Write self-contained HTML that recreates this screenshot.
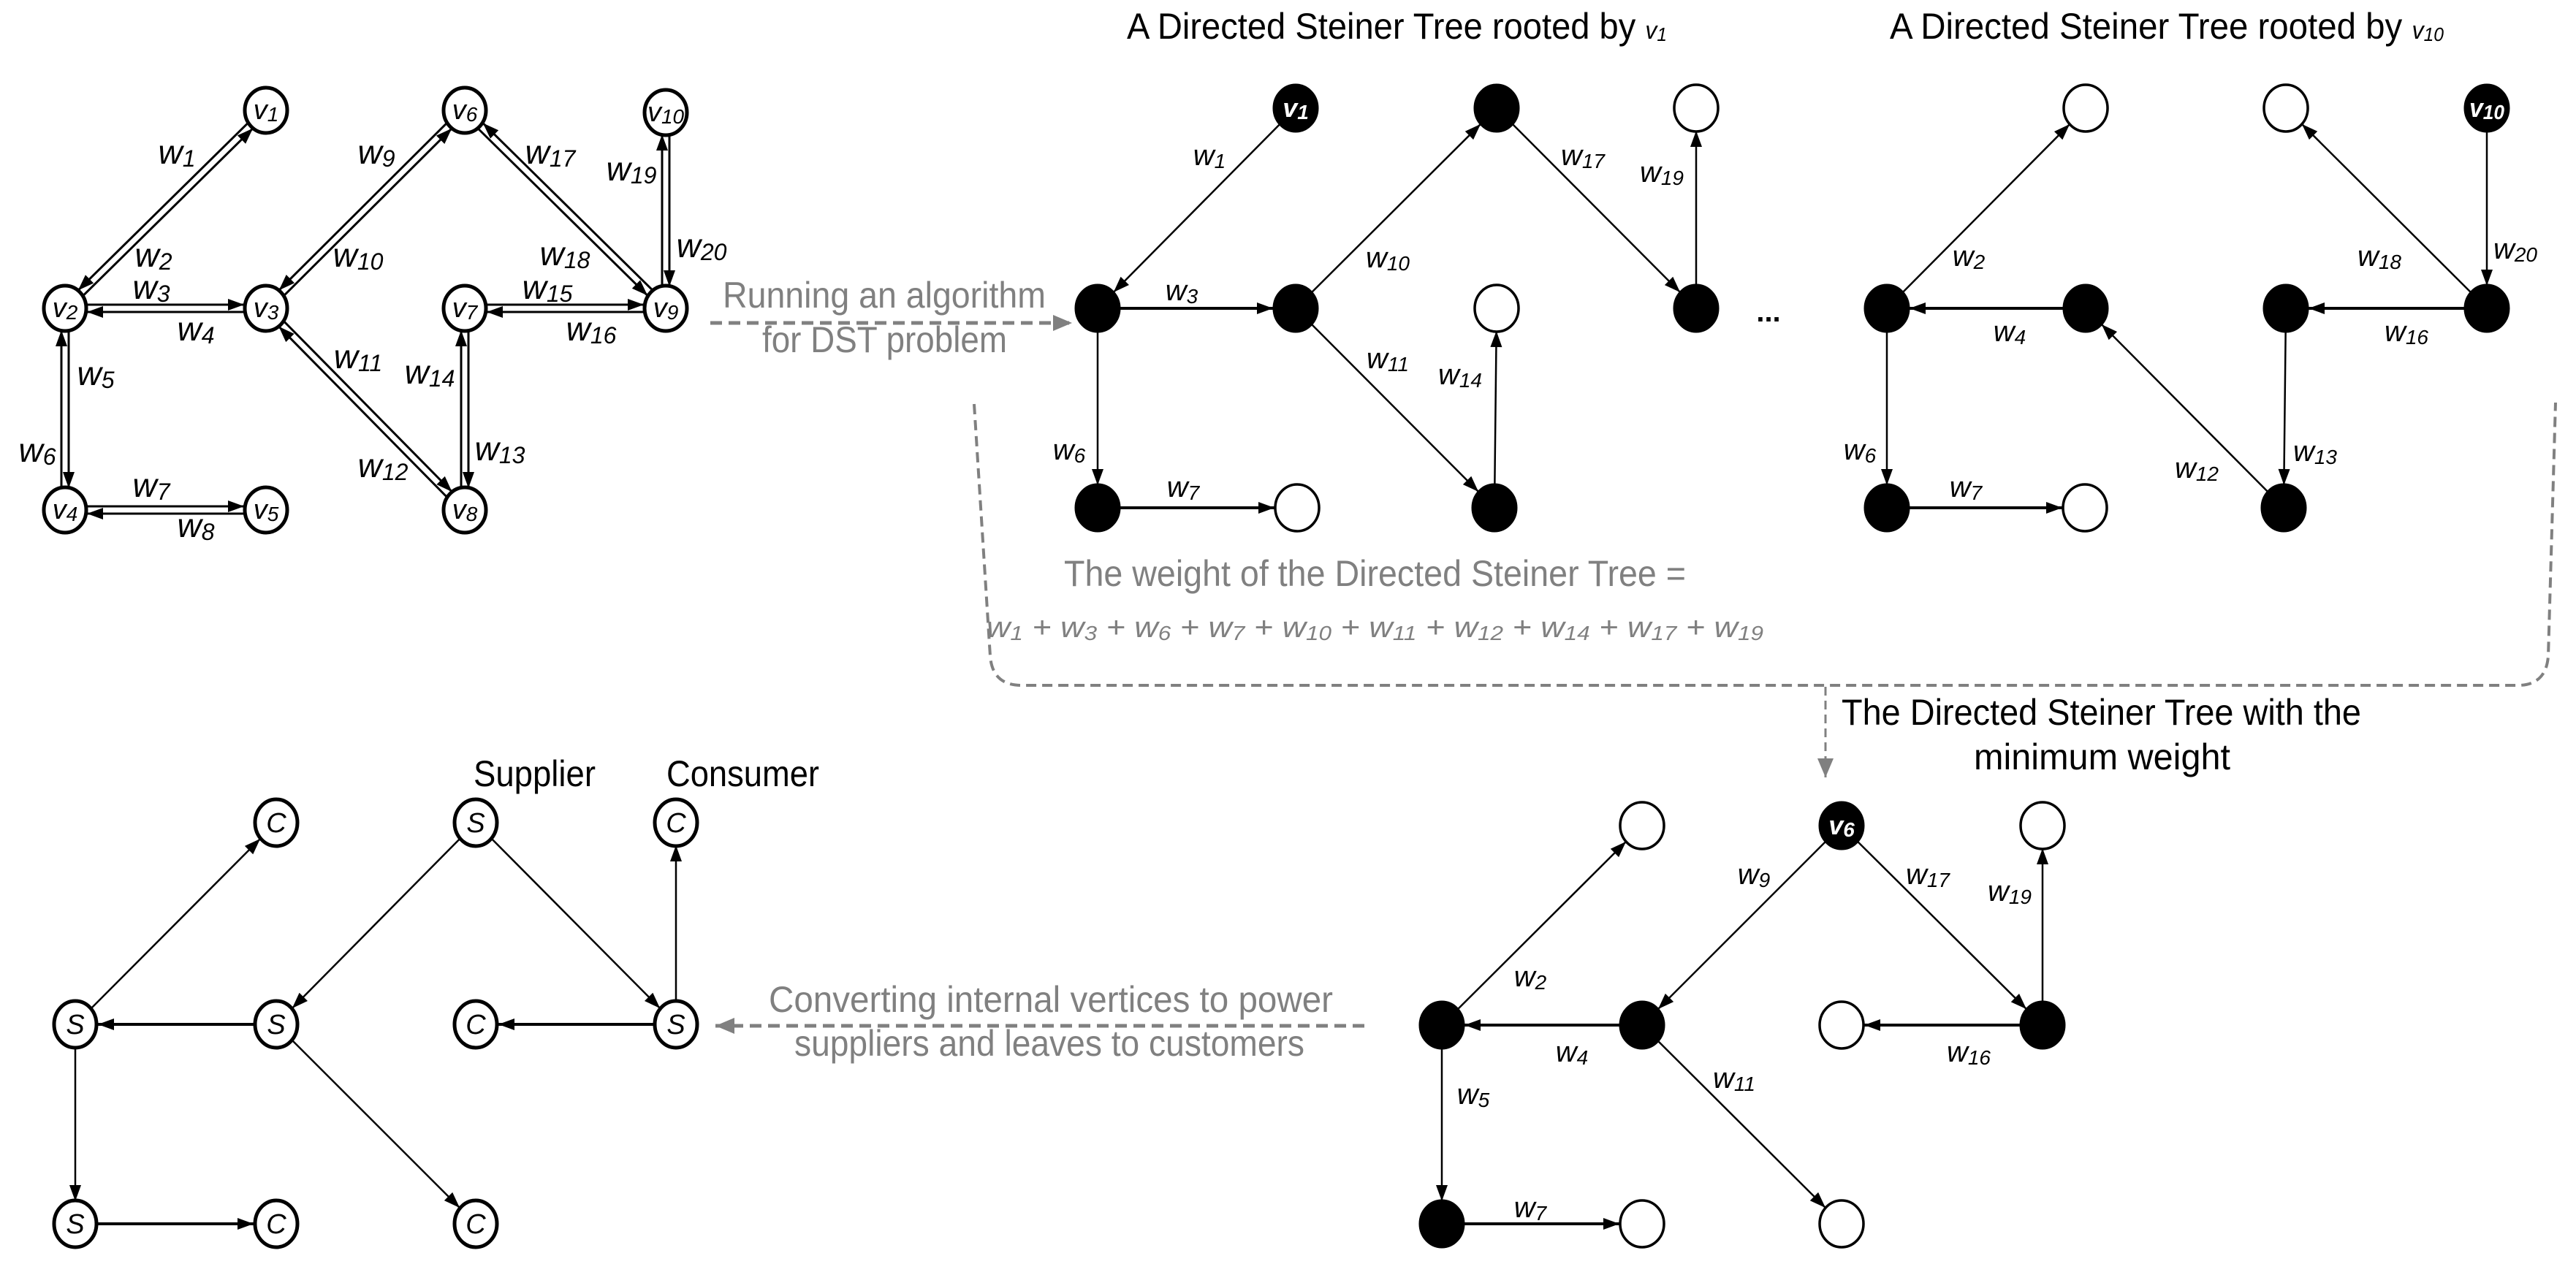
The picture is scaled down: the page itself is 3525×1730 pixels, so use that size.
<!DOCTYPE html>
<html><head><meta charset="utf-8"><style>
html,body{margin:0;padding:0;background:#fff;}
svg{display:block;}
text{font-family:"Liberation Sans",sans-serif;}
.L{font-size:46px;font-style:italic;text-anchor:middle;fill:#000;}
.T{font-size:40px;font-style:italic;text-anchor:middle;fill:#000;}
.N{font-size:38px;font-style:italic;text-anchor:middle;fill:#000;}
.NW{font-size:36px;font-style:italic;font-weight:bold;text-anchor:middle;fill:#fff;}
.s{font-size:32px;}
.st{font-size:28px;}
.sn{font-size:28px;}
.g{fill:#808080;font-size:50px;}
.k{fill:#000;font-size:50px;}
.e{stroke:#000;stroke-width:2.5;fill:none;marker-end:url(#b);}
.eh{stroke:#000;stroke-width:4;fill:none;marker-end:url(#b);}
.d{stroke:#000;stroke-width:3;fill:none;marker-end:url(#a);}
.n{fill:#fff;stroke:#000;stroke-width:5;}
.tw{fill:#fff;stroke:#000;stroke-width:3.5;}
.tb{fill:#000;stroke:#000;stroke-width:3;}
</style></head><body>
<svg width="3525" height="1730" viewBox="0 0 3525 1730" xmlns="http://www.w3.org/2000/svg">
<defs>
<marker id="a" markerUnits="userSpaceOnUse" markerWidth="22" markerHeight="16" viewBox="0 0 22 16" refX="52" refY="8" orient="auto" overflow="visible"><path d="M0,0 L22,8 L0,16 z" fill="#000"/></marker>
<marker id="b" markerUnits="userSpaceOnUse" markerWidth="22" markerHeight="16" viewBox="0 0 22 16" refX="53" refY="8" orient="auto" overflow="visible"><path d="M0,0 L22,8 L0,16 z" fill="#000"/></marker>
<marker id="g" markerUnits="userSpaceOnUse" markerWidth="26" markerHeight="22" viewBox="0 0 26 22" refX="26" refY="11" orient="auto" overflow="visible"><path d="M0,0 L26,11 L0,22 z" fill="#808080"/></marker>
</defs>
<rect width="3525" height="1730" fill="#fff"/>

<line class="d" x1="92.5" y1="425.6" x2="367.5" y2="154.6"/>
<line class="d" x1="360.5" y1="147.4" x2="85.5" y2="418.4"/>
<line class="d" x1="89" y1="417" x2="364" y2="417"/>
<line class="d" x1="364" y1="427" x2="89" y2="427"/>
<line class="d" x1="84" y1="698" x2="84" y2="422"/>
<line class="d" x1="94" y1="422" x2="94" y2="698"/>
<line class="d" x1="89" y1="693" x2="364" y2="693"/>
<line class="d" x1="364" y1="703" x2="89" y2="703"/>
<line class="d" x1="367.5" y1="425.6" x2="639.5" y2="154.6"/>
<line class="d" x1="632.5" y1="147.4" x2="360.5" y2="418.4"/>
<line class="d" x1="367.6" y1="418.5" x2="639.6" y2="694.5"/>
<line class="d" x1="632.4" y1="701.5" x2="360.4" y2="425.5"/>
<line class="d" x1="631" y1="698" x2="631" y2="422"/>
<line class="d" x1="641" y1="422" x2="641" y2="698"/>
<line class="d" x1="636" y1="417" x2="911" y2="417"/>
<line class="d" x1="911" y1="427" x2="636" y2="427"/>
<line class="d" x1="914.5" y1="418.4" x2="639.5" y2="147.4"/>
<line class="d" x1="632.5" y1="154.6" x2="907.5" y2="425.6"/>
<line class="d" x1="906" y1="422" x2="906" y2="154"/>
<line class="d" x1="916" y1="154" x2="916" y2="422"/>

<ellipse class="n" cx="364" cy="151" rx="29" ry="31"/>
<ellipse class="n" cx="636" cy="151" rx="29" ry="31"/>
<ellipse class="n" cx="911" cy="154" rx="29" ry="31"/>
<ellipse class="n" cx="89" cy="422" rx="29" ry="31"/>
<ellipse class="n" cx="364" cy="422" rx="29" ry="31"/>
<ellipse class="n" cx="636" cy="422" rx="29" ry="31"/>
<ellipse class="n" cx="911" cy="422" rx="29" ry="31"/>
<ellipse class="n" cx="89" cy="698" rx="29" ry="31"/>
<ellipse class="n" cx="364" cy="698" rx="29" ry="31"/>
<ellipse class="n" cx="636" cy="698" rx="29" ry="31"/>
<text class="N" x="364" y="163">v<tspan class="sn" dy="3">1</tspan></text>
<text class="N" x="636" y="163">v<tspan class="sn" dy="3">6</tspan></text>
<text class="N" x="911" y="166" textLength="50" lengthAdjust="spacingAndGlyphs">v<tspan class="sn" dy="3">10</tspan></text>
<text class="N" x="89" y="434">v<tspan class="sn" dy="3">2</tspan></text>
<text class="N" x="364" y="434">v<tspan class="sn" dy="3">3</tspan></text>
<text class="N" x="636" y="434">v<tspan class="sn" dy="3">7</tspan></text>
<text class="N" x="911" y="434">v<tspan class="sn" dy="3">9</tspan></text>
<text class="N" x="89" y="710">v<tspan class="sn" dy="3">4</tspan></text>
<text class="N" x="364" y="710">v<tspan class="sn" dy="3">5</tspan></text>
<text class="N" x="636" y="710">v<tspan class="sn" dy="3">8</tspan></text>

<text class="L" x="242" y="224">w<tspan class="s" dy="4">1</tspan></text>
<text class="L" x="210" y="365">w<tspan class="s" dy="4">2</tspan></text>
<text class="L" x="207" y="409">w<tspan class="s" dy="4">3</tspan></text>
<text class="L" x="268" y="466">w<tspan class="s" dy="4">4</tspan></text>
<text class="L" x="131" y="527">w<tspan class="s" dy="4">5</tspan></text>
<text class="L" x="51" y="632">w<tspan class="s" dy="4">6</tspan></text>
<text class="L" x="207" y="680">w<tspan class="s" dy="4">7</tspan></text>
<text class="L" x="268" y="735">w<tspan class="s" dy="4">8</tspan></text>
<text class="L" x="515" y="224">w<tspan class="s" dy="4">9</tspan></text>
<text class="L" x="490" y="365">w<tspan class="s" dy="4">10</tspan></text>
<text class="L" x="490" y="504">w<tspan class="s" dy="4">11</tspan></text>
<text class="L" x="524" y="653">w<tspan class="s" dy="4">12</tspan></text>
<text class="L" x="684" y="630">w<tspan class="s" dy="4">13</tspan></text>
<text class="L" x="588" y="525">w<tspan class="s" dy="4">14</tspan></text>
<text class="L" x="749" y="409">w<tspan class="s" dy="4">15</tspan></text>
<text class="L" x="809" y="466">w<tspan class="s" dy="4">16</tspan></text>
<text class="L" x="753" y="224">w<tspan class="s" dy="4">17</tspan></text>
<text class="L" x="773" y="363">w<tspan class="s" dy="4">18</tspan></text>
<text class="L" x="864" y="247">w<tspan class="s" dy="4">19</tspan></text>
<text class="L" x="960" y="352">w<tspan class="s" dy="4">20</tspan></text>

<text class="g" x="989" y="421" textLength="442" lengthAdjust="spacingAndGlyphs">Running an algorithm</text>
<text class="g" x="1043" y="482" textLength="335" lengthAdjust="spacingAndGlyphs">for DST problem</text>
<line x1="972" y1="442" x2="1467" y2="442" stroke="#808080" stroke-width="5" stroke-dasharray="16 9" marker-end="url(#g)"/>

<text class="k" x="1542" y="53" textLength="739" lengthAdjust="spacingAndGlyphs">A Directed Steiner Tree rooted by <tspan font-style="italic" font-size="34">v<tspan font-size="26" dy="3">1</tspan></tspan></text>
<text class="k" x="2586" y="53" textLength="758" lengthAdjust="spacingAndGlyphs">A Directed Steiner Tree rooted by <tspan font-style="italic" font-size="34">v<tspan font-size="26" dy="3">10</tspan></tspan></text>

<line class="e" x1="1773" y1="148" x2="1502" y2="422"/>
<line class="eh" x1="1502" y1="422" x2="1773" y2="422"/>
<line class="e" x1="1773" y1="422" x2="2048" y2="148"/>
<line class="e" x1="2048" y1="148" x2="2321" y2="422"/>
<line class="e" x1="2321" y1="422" x2="2321" y2="148"/>
<line class="e" x1="1773" y1="422" x2="2045" y2="695"/>
<line class="e" x1="2045" y1="695" x2="2048" y2="422"/>
<line class="e" x1="1502" y1="422" x2="1502" y2="695"/>
<line class="eh" x1="1502" y1="695" x2="1775" y2="695"/>
<ellipse class="tb" cx="1773" cy="148" rx="30" ry="32"/>
<ellipse class="tb" cx="2048" cy="148" rx="30" ry="32"/>
<ellipse class="tw" cx="2321" cy="148" rx="30" ry="32"/>
<ellipse class="tb" cx="1502" cy="422" rx="30" ry="32"/>
<ellipse class="tb" cx="1773" cy="422" rx="30" ry="32"/>
<ellipse class="tw" cx="2048" cy="422" rx="30" ry="32"/>
<ellipse class="tb" cx="2321" cy="422" rx="30" ry="32"/>
<ellipse class="tb" cx="1502" cy="695" rx="30" ry="32"/>
<ellipse class="tw" cx="1775" cy="695" rx="30" ry="32"/>
<ellipse class="tb" cx="2045" cy="695" rx="30" ry="32"/>
<text class="NW" x="1773" y="160">v<tspan class="sn" dy="3">1</tspan></text>
<text class="T" x="1655" y="226">w<tspan class="st" dy="4">1</tspan></text>
<text class="T" x="1617" y="411">w<tspan class="st" dy="4">3</tspan></text>
<text class="T" x="1899" y="366">w<tspan class="st" dy="4">10</tspan></text>
<text class="T" x="2166" y="226">w<tspan class="st" dy="4">17</tspan></text>
<text class="T" x="2274" y="249">w<tspan class="st" dy="4">19</tspan></text>
<text class="T" x="1899" y="504">w<tspan class="st" dy="4">11</tspan></text>
<text class="T" x="1998" y="526">w<tspan class="st" dy="4">14</tspan></text>
<text class="T" x="1463" y="629">w<tspan class="st" dy="4">6</tspan></text>
<text class="T" x="1619" y="680">w<tspan class="st" dy="4">7</tspan></text>
<text x="2420" y="440" font-size="40" font-weight="bold" text-anchor="middle">...</text>

<line class="e" x1="2582" y1="422" x2="2854" y2="148"/>
<line class="eh" x1="2854" y1="422" x2="2582" y2="422"/>
<line class="e" x1="2582" y1="422" x2="2582" y2="695"/>
<line class="eh" x1="2582" y1="695" x2="2853" y2="695"/>
<line class="e" x1="3125" y1="695" x2="2854" y2="422"/>
<line class="e" x1="3128" y1="422" x2="3125" y2="695"/>
<line class="e" x1="3403" y1="422" x2="3128" y2="148"/>
<line class="e" x1="3403" y1="148" x2="3403" y2="422"/>
<line class="eh" x1="3403" y1="422" x2="3128" y2="422"/>
<ellipse class="tw" cx="2854" cy="148" rx="30" ry="32"/>
<ellipse class="tw" cx="3128" cy="148" rx="30" ry="32"/>
<ellipse class="tb" cx="3403" cy="148" rx="30" ry="32"/>
<ellipse class="tb" cx="2582" cy="422" rx="30" ry="32"/>
<ellipse class="tb" cx="2854" cy="422" rx="30" ry="32"/>
<ellipse class="tb" cx="3128" cy="422" rx="30" ry="32"/>
<ellipse class="tb" cx="3403" cy="422" rx="30" ry="32"/>
<ellipse class="tb" cx="2582" cy="695" rx="30" ry="32"/>
<ellipse class="tw" cx="2853" cy="695" rx="30" ry="32"/>
<ellipse class="tb" cx="3125" cy="695" rx="30" ry="32"/>
<text class="NW" x="3403" y="160" textLength="48" lengthAdjust="spacingAndGlyphs">v<tspan class="sn" dy="3">10</tspan></text>
<text class="T" x="2694" y="364">w<tspan class="st" dy="4">2</tspan></text>
<text class="T" x="2750" y="467">w<tspan class="st" dy="4">4</tspan></text>
<text class="T" x="2545" y="629">w<tspan class="st" dy="4">6</tspan></text>
<text class="T" x="2690" y="680">w<tspan class="st" dy="4">7</tspan></text>
<text class="T" x="3006" y="654">w<tspan class="st" dy="4">12</tspan></text>
<text class="T" x="3168" y="631">w<tspan class="st" dy="4">13</tspan></text>
<text class="T" x="3293" y="467">w<tspan class="st" dy="4">16</tspan></text>
<text class="T" x="3256" y="364">w<tspan class="st" dy="4">18</tspan></text>
<text class="T" x="3442" y="354">w<tspan class="st" dy="4">20</tspan></text>

<text class="g" x="1456" y="802" textLength="851" lengthAdjust="spacingAndGlyphs">The weight of the Directed Steiner Tree =</text>
<text x="1350" y="872" fill="#808080" font-size="40" font-style="italic" textLength="1063" lengthAdjust="spacingAndGlyphs">w<tspan font-size="28" dy="4">1</tspan><tspan dy="-4"> + w</tspan><tspan font-size="28" dy="4">3</tspan><tspan dy="-4"> + w</tspan><tspan font-size="28" dy="4">6</tspan><tspan dy="-4"> + w</tspan><tspan font-size="28" dy="4">7</tspan><tspan dy="-4"> + w</tspan><tspan font-size="28" dy="4">10</tspan><tspan dy="-4"> + w</tspan><tspan font-size="28" dy="4">11</tspan><tspan dy="-4"> + w</tspan><tspan font-size="28" dy="4">12</tspan><tspan dy="-4"> + w</tspan><tspan font-size="28" dy="4">14</tspan><tspan dy="-4"> + w</tspan><tspan font-size="28" dy="4">17</tspan><tspan dy="-4"> + w</tspan><tspan font-size="28" dy="4">19</tspan></text>

<path d="M1333,553 L1355,898 Q1358,938 1398,938 L3445,938 Q3484,938 3487,898 L3497,551" fill="none" stroke="#808080" stroke-width="4" stroke-dasharray="14 8"/>
<line x1="2498" y1="940" x2="2498" y2="1064" stroke="#808080" stroke-width="3" stroke-dasharray="12 7" marker-end="url(#g)"/>
<text class="k" x="2520" y="992" textLength="711" lengthAdjust="spacingAndGlyphs">The Directed Steiner Tree with the</text>
<text class="k" x="2701" y="1053" textLength="351" lengthAdjust="spacingAndGlyphs">minimum weight</text>

<line class="e" x1="1973" y1="1403" x2="2247" y2="1130"/>
<line class="eh" x1="2247" y1="1403" x2="1973" y2="1403"/>
<line class="e" x1="1973" y1="1403" x2="1973" y2="1675"/>
<line class="eh" x1="1973" y1="1675" x2="2247" y2="1675"/>
<line class="e" x1="2520" y1="1130" x2="2247" y2="1403"/>
<line class="e" x1="2520" y1="1130" x2="2795" y2="1403"/>
<line class="e" x1="2795" y1="1403" x2="2795" y2="1130"/>
<line class="eh" x1="2795" y1="1403" x2="2520" y2="1403"/>
<line class="e" x1="2247" y1="1403" x2="2520" y2="1675"/>
<ellipse class="tb" cx="1973" cy="1403" rx="30" ry="32"/>
<ellipse class="tw" cx="2247" cy="1130" rx="30" ry="32"/>
<ellipse class="tb" cx="2247" cy="1403" rx="30" ry="32"/>
<ellipse class="tb" cx="1973" cy="1675" rx="30" ry="32"/>
<ellipse class="tw" cx="2247" cy="1675" rx="30" ry="32"/>
<ellipse class="tb" cx="2520" cy="1130" rx="30" ry="32"/>
<ellipse class="tw" cx="2520" cy="1403" rx="30" ry="32"/>
<ellipse class="tb" cx="2795" cy="1403" rx="30" ry="32"/>
<ellipse class="tw" cx="2795" cy="1130" rx="30" ry="32"/>
<ellipse class="tw" cx="2520" cy="1675" rx="30" ry="32"/>
<text class="NW" x="2520" y="1142">v<tspan class="sn" dy="3">6</tspan></text>
<text class="T" x="2094" y="1350">w<tspan class="st" dy="4">2</tspan></text>
<text class="T" x="2151" y="1453">w<tspan class="st" dy="4">4</tspan></text>
<text class="T" x="2016" y="1511">w<tspan class="st" dy="4">5</tspan></text>
<text class="T" x="2094" y="1666">w<tspan class="st" dy="4">7</tspan></text>
<text class="T" x="2400" y="1210">w<tspan class="st" dy="4">9</tspan></text>
<text class="T" x="2638" y="1210">w<tspan class="st" dy="4">17</tspan></text>
<text class="T" x="2750" y="1233">w<tspan class="st" dy="4">19</tspan></text>
<text class="T" x="2694" y="1453">w<tspan class="st" dy="4">16</tspan></text>
<text class="T" x="2373" y="1489">w<tspan class="st" dy="4">11</tspan></text>

<text class="g" x="1052" y="1385" textLength="772" lengthAdjust="spacingAndGlyphs">Converting internal vertices to power</text>
<text class="g" x="1087" y="1445" textLength="698" lengthAdjust="spacingAndGlyphs">suppliers and leaves to customers</text>
<line x1="1867" y1="1404" x2="979" y2="1404" stroke="#808080" stroke-width="5" stroke-dasharray="16 9" marker-end="url(#g)"/>

<line class="e" x1="103" y1="1402" x2="378" y2="1126"/>
<line class="eh" x1="378" y1="1402" x2="103" y2="1402"/>
<line class="e" x1="103" y1="1402" x2="103" y2="1675"/>
<line class="eh" x1="103" y1="1675" x2="378" y2="1675"/>
<line class="e" x1="651" y1="1126" x2="378" y2="1402"/>
<line class="e" x1="378" y1="1402" x2="651" y2="1675"/>
<line class="e" x1="651" y1="1126" x2="925" y2="1402"/>
<line class="e" x1="925" y1="1402" x2="925" y2="1126"/>
<line class="eh" x1="925" y1="1402" x2="651" y2="1402"/>
<ellipse class="n" cx="378" cy="1126" rx="29" ry="32"/>
<ellipse class="n" cx="651" cy="1126" rx="29" ry="32"/>
<ellipse class="n" cx="925" cy="1126" rx="29" ry="32"/>
<ellipse class="n" cx="103" cy="1402" rx="29" ry="32"/>
<ellipse class="n" cx="378" cy="1402" rx="29" ry="32"/>
<ellipse class="n" cx="651" cy="1402" rx="29" ry="32"/>
<ellipse class="n" cx="925" cy="1402" rx="29" ry="32"/>
<ellipse class="n" cx="103" cy="1675" rx="29" ry="32"/>
<ellipse class="n" cx="378" cy="1675" rx="29" ry="32"/>
<ellipse class="n" cx="651" cy="1675" rx="29" ry="32"/>
<text class="N" x="378" y="1139">C</text>
<text class="N" x="651" y="1139">S</text>
<text class="N" x="925" y="1139">C</text>
<text class="N" x="103" y="1415">S</text>
<text class="N" x="378" y="1415">S</text>
<text class="N" x="651" y="1415">C</text>
<text class="N" x="925" y="1415">S</text>
<text class="N" x="103" y="1688">S</text>
<text class="N" x="378" y="1688">C</text>
<text class="N" x="651" y="1688">C</text>
<text class="k" x="648" y="1076" textLength="167" lengthAdjust="spacingAndGlyphs">Supplier</text>
<text class="k" x="912" y="1076" textLength="209" lengthAdjust="spacingAndGlyphs">Consumer</text>
</svg>
</body></html>
